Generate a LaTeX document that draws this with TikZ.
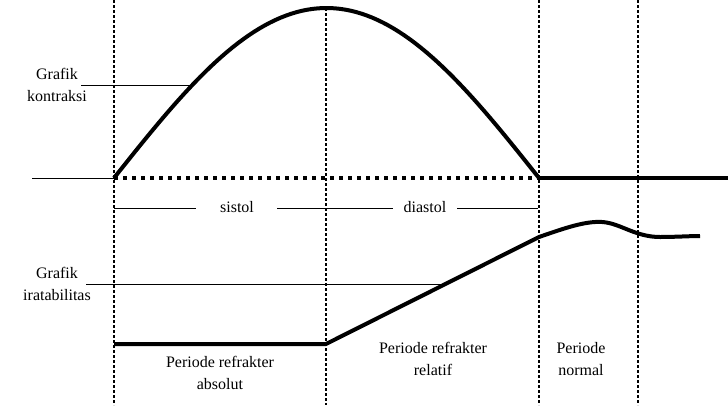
\documentclass[tikz,border=0pt]{standalone}
\usepackage{fontspec}
\setmainfont{Liberation Serif}
\begin{document}
\begin{tikzpicture}[
    x = 1pt,
    y = -1pt,
    label/.style = {
        align = center,
        inner sep = 0pt,
        font = \fontsize{16}{22}\selectfont
    },
    guide/.style = {
        black,
        line width = 2.8pt,
        dash pattern = on 2.5pt off 2.5pt
    },
    rest/.style = {
        black,
        line width = 4pt,
        dash pattern = on 4pt off 5pt
    },
    curve/.style = {
        black,
        line width = 4pt,
        line join = round
    },
    pointer/.style = {
        black,
        line width = 0.9pt
    }
]
    \useasboundingbox (0,0) rectangle (728,405);

    % Coordinates
    \coordinate (start) at (114,178);
    \coordinate (top) at (326,8);
    \coordinate (stop) at (539,178);
    \coordinate (base) at (32,178);
    \coordinate (baseend) at (728,178);
    \coordinate (absA) at (114,344);
    \coordinate (absB) at (326,344);
    \coordinate (relB) at (539,237);
    \coordinate (normB) at (700,236);
    \coordinate (kontr) at (190,85);
    \coordinate (irat) at (445,284);

    % Guide lines
    \draw [guide] (114,0) -- (114,405);
    \draw [guide] (top) -- (326,405);
    \draw [guide] (539,0) -- (539,405);
    \draw [guide] (638,0) -- (638,405);

    % Labels
    \node [label] (k) at (57,85) {Grafik\\kontraksi};
    \node [label] (i) at (57,284) {Grafik\\iratabilitas};
    \node [label] (sis) at (237,207) {sistol};
    \node [label] (dia) at (425,207) {diastol};
    \node [label] (pa) at (220,373) {Periode refrakter\\absolut};
    \node [label] (pr) at (433,359) {Periode refrakter\\relatif};
    \node [label] (pn) at (581,359) {Periode\\normal};

    % Contraction
    \draw [pointer] (base) -- (start);
    \draw [rest] (start) -- (stop);
    \draw [curve] (stop) -- (baseend);
    \draw [curve] plot [domain=114:539, samples=80]
        (\x, {178-170*sin(0.42353*(\x-114))});

    % Irritability
    \draw [curve] (absA) -- (absB) -- (relB)
        .. controls (565,228) and (585,221) .. (602,222)
        .. controls (620,223) and (635,237) .. (660,237)
        .. controls (675,237) and (690,236) .. (normB);

    % Pointers
    \draw [pointer] (81,85) -- (kontr);
    \draw [pointer] (86,284) -- (irat);
    \draw [pointer] (114,208) -- (196,208);
    \draw [pointer] (277,208) -- (393,208);
    \draw [pointer] (457,208) -- (538,208);
\end{tikzpicture}
\end{document}
